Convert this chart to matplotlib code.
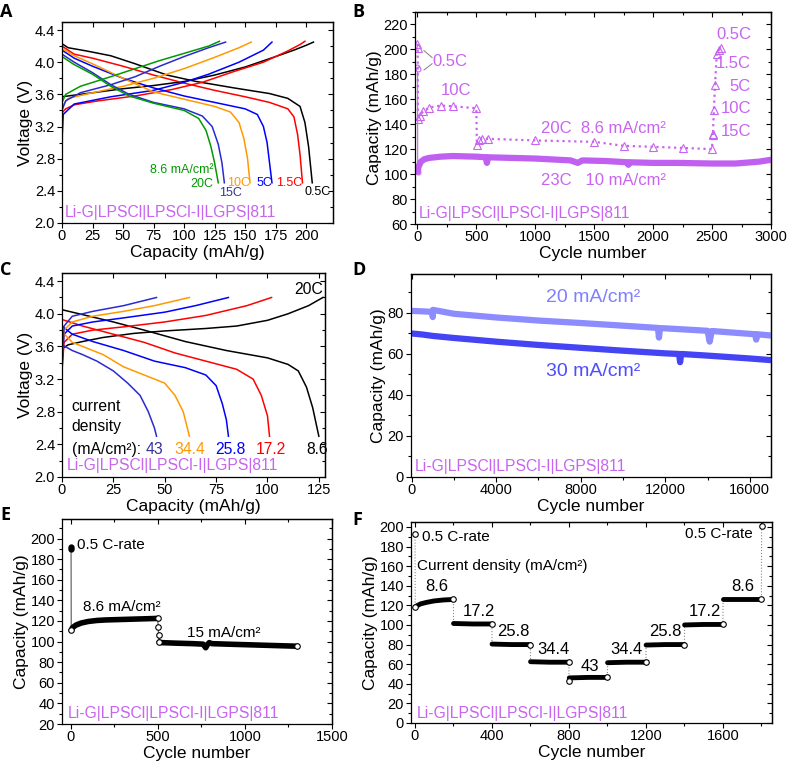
import matplotlib
matplotlib.use('Agg')
import matplotlib.pyplot as plt
from matplotlib.ticker import MultipleLocator, FixedLocator

plt.rcParams['font.family'] = ['Liberation Sans', 'DejaVu Sans']
plt.rcParams['font.size'] = 10.5
plt.rcParams['axes.labelsize'] = 12.5
plt.rcParams['axes.labelpad'] = 1
plt.rcParams['xtick.major.pad'] = 1
plt.rcParams['ytick.major.pad'] = 1.5
plt.rcParams['axes.linewidth'] = 0.9

MAG = '#c864f0'
CELL = 'Li-G|LPSCl|LPSCl-I|LGPS|811'

# ---------------- Panel A data (capacity mAh/g, voltage V) ----------------
a_labels = ['0.5C', '1.5C', '5C', '10C', '15C', '20C']
a_colors = ['black', '#ff0000', '#0000ff', '#ff9900', '#2a2ad0', '#009a00']
a_chg_cap_05 = [0, 10, 25, 50, 75, 100, 125, 150, 175, 190, 200, 206]
a_chg_v_05 = [3.57, 3.59, 3.62, 3.67, 3.71, 3.76, 3.84, 3.94, 4.07, 4.15, 4.21, 4.25]
a_dis_cap_05 = [0, 5, 20, 40, 60, 86, 110, 141, 170, 185, 195, 199, 202, 205]
a_dis_v_05 = [4.23, 4.18, 4.14, 4.08, 3.98, 3.84, 3.76, 3.68, 3.61, 3.55, 3.45, 3.25, 2.95, 2.5]
a_chg_cap_15 = [0, 0.5, 3, 10, 30, 60, 90, 115, 140, 165, 185, 195, 199]
a_chg_v_15 = [2.73, 3.38, 3.42, 3.47, 3.52, 3.58, 3.66, 3.75, 3.88, 4.0, 4.14, 4.22, 4.26]
a_dis_cap_15 = [0, 10, 25, 50, 75, 100, 125, 150, 170, 185, 190, 193, 195, 197]
a_dis_v_15 = [4.2, 4.1, 4.05, 3.95, 3.84, 3.74, 3.65, 3.57, 3.5, 3.42, 3.32, 3.1, 2.85, 2.5]
a_chg_cap_5 = [0, 1, 10, 40, 75, 100, 120, 145, 165, 172]
a_chg_v_5 = [3.05, 3.35, 3.48, 3.57, 3.65, 3.75, 3.85, 4.0, 4.15, 4.25]
a_dis_cap_5 = [0, 10, 25, 50, 75, 100, 125, 150, 160, 165, 168, 170, 172]
a_dis_v_5 = [4.15, 4.05, 3.95, 3.8, 3.68, 3.58, 3.5, 3.42, 3.35, 3.2, 3.0, 2.75, 2.5]
a_chg_cap_10 = [0, 5, 25, 50, 75, 100, 125, 145, 155]
a_chg_v_10 = [3.45, 3.55, 3.62, 3.7, 3.8, 3.92, 4.06, 4.18, 4.25]
a_dis_cap_10 = [0, 10, 25, 50, 75, 100, 125, 138, 145, 149, 152, 154]
a_dis_v_10 = [4.17, 4.08, 3.98, 3.8, 3.63, 3.54, 3.45, 3.38, 3.25, 3.05, 2.8, 2.5]
a_chg_cap_15c = [0, 3, 15, 40, 60, 80, 100, 120, 134]
a_chg_v_15c = [3.4, 3.52, 3.62, 3.72, 3.82, 3.95, 4.07, 4.18, 4.25]
a_dis_cap_15c = [0, 10, 25, 40, 55, 75, 100, 115, 123, 128, 131, 133]
a_dis_v_15c = [4.1, 4.0, 3.87, 3.72, 3.6, 3.5, 3.42, 3.33, 3.2, 2.98, 2.75, 2.5]
a_chg_cap_20 = [0, 3, 15, 40, 60, 80, 100, 120, 129]
a_chg_v_20 = [3.5, 3.6, 3.7, 3.82, 3.92, 4.02, 4.11, 4.2, 4.26]
a_dis_cap_20 = [0, 10, 25, 40, 55, 75, 100, 112, 118, 122, 125, 128]
a_dis_v_20 = [4.07, 3.97, 3.85, 3.7, 3.58, 3.49, 3.4, 3.3, 3.15, 2.95, 2.75, 2.5]

# ---------------- Panel B data (cycle, capacity) ----------------
b_cyc_23c = [1, 2, 3, 10, 30, 60, 100, 200, 300, 500, 580, 590, 600, 800, 1000, 1300, 1360,
             1400, 1600, 1780, 1790, 1800, 2000, 2200, 2500, 2700, 2900, 3000]
b_cap_23c = [186, 184, 102, 106, 110, 112, 113, 114, 114.5, 114, 113.5, 109, 113.5, 113, 112.5,
             111, 109, 111, 110.5, 109.5, 107.5, 109.5, 109, 109, 108.5, 108.5, 110, 111.5]
b_cyc_rate = [1, 3, 5, 20, 50, 100, 200, 300, 500, 505, 520, 550, 600, 1000, 1500, 1750, 2000,
              2250, 2500, 2505, 2507, 2515, 2525, 2540, 2560, 2580]
b_cap_rate = [204.5, 201, 144, 147, 150.4, 153.3, 155, 154.4, 152.8, 123.7, 127.7, 128.5, 128.3,
              127, 125.9, 122.7, 121.9, 121, 120, 132.5, 131, 151.2, 171.2, 196.5, 199.7, 201.3]

# ---------------- Panel C data ----------------
c_labels = ['8.6', '17.2', '25.8', '34.4', '43']
c_colors = ['black', '#ff0000', '#0000ff', '#ff9900', '#2a2ad0']
c_chg_cap_86 = [0, 3, 10, 20, 35, 50, 70, 85, 100, 110, 120, 127]
c_chg_v_86 = [3.57, 3.62, 3.66, 3.71, 3.76, 3.79, 3.82, 3.85, 3.92, 4.0, 4.1, 4.2]
c_dis_cap_86 = [0, 10, 25, 40, 60, 80, 100, 110, 115, 119, 122, 125]
c_dis_v_86 = [4.05, 3.99, 3.9, 3.8, 3.66, 3.55, 3.46, 3.38, 3.3, 3.1, 2.85, 2.5]
c_chg_cap_172 = [0, 1, 5, 15, 30, 50, 70, 90, 102]
c_chg_v_172 = [3.3, 3.65, 3.75, 3.8, 3.84, 3.9, 3.98, 4.1, 4.2]
c_dis_cap_172 = [0, 10, 25, 40, 55, 70, 85, 93, 97, 100, 101]
c_dis_v_172 = [3.93, 3.85, 3.75, 3.65, 3.52, 3.42, 3.32, 3.2, 3.0, 2.75, 2.5]
c_chg_cap_258 = [0, 1, 5, 15, 30, 50, 65, 81]
c_chg_v_258 = [3.4, 3.75, 3.85, 3.9, 3.95, 4.02, 4.1, 4.2]
c_dis_cap_258 = [0, 5, 15, 30, 45, 60, 70, 75, 78, 80, 81]
c_dis_v_258 = [3.85, 3.75, 3.66, 3.55, 3.42, 3.34, 3.25, 3.12, 2.9, 2.7, 2.5]
c_chg_cap_344 = [0, 1, 5, 15, 30, 45, 62]
c_chg_v_344 = [3.45, 3.8, 3.9, 3.97, 4.03, 4.1, 4.2]
c_dis_cap_344 = [0, 5, 12, 20, 30, 40, 50, 55, 59, 62]
c_dis_v_344 = [3.78, 3.65, 3.58, 3.5, 3.35, 3.25, 3.15, 3.0, 2.8, 2.5]
c_chg_cap_43 = [0, 1, 5, 15, 30, 46]
c_chg_v_43 = [3.3, 3.85, 3.97, 4.03, 4.1, 4.2]
c_dis_cap_43 = [0, 5, 10, 17, 25, 32, 38, 42, 45, 46]
c_dis_v_43 = [3.62, 3.55, 3.5, 3.42, 3.3, 3.15, 3.0, 2.8, 2.6, 2.5]

# ---------------- Panel D data ----------------
d_cyc_20 = [0, 500, 990, 1000, 1010, 2000, 4000, 6000, 8000, 10000, 11650, 11700, 11750, 12000,
            14000, 14100, 14200, 16000, 16250, 16300, 16350, 17000]
d_cap_20 = [81, 80.8, 80.5, 78, 81.5, 79.6, 77.8, 76.3, 75.1, 73.8, 72.7, 68, 72.6, 72.5,
            71.3, 66, 71.2, 69.8, 69.6, 67, 69.6, 69]
d_cyc_30 = [0, 500, 1000, 2000, 4000, 6000, 8000, 10000, 12000, 12650, 12700, 12750, 14000,
            16000, 17000]
d_cap_30 = [70, 69.5, 68.8, 67.8, 66, 64.4, 63, 61.6, 60.3, 60, 56, 60, 59.2, 57.8, 57]

# ---------------- Panel E data ----------------
e_cyc = [1, 2, 3, 10, 30, 60, 100, 150, 200, 300, 400, 500, 502, 505, 508, 520, 600, 700,
         760, 775, 785, 795, 810, 900, 1000, 1100, 1200, 1300]
e_cap = [192, 190, 111, 113.5, 116, 118, 119.5, 120.5, 121, 121.5, 122, 122.5, 114, 106,
         99.5, 99, 98.5, 98, 97.5, 94, 97, 99, 98, 97.5, 97, 96.5, 96, 95.5]

# ---------------- Panel F data ----------------
f_step_labels = ['8.6', '17.2', '25.8', '34.4', '43', '34.4', '25.8', '17.2', '8.6']
f_cyc = [1, 2, 10, 30, 60, 100, 150, 200, 201, 300, 400, 401, 500, 600, 601, 700, 800,
         801, 802, 900, 1000, 1001, 1100, 1200, 1201, 1300, 1400, 1401, 1500, 1600,
         1601, 1700, 1800, 1801]
f_cap = [193, 118, 119.5, 121.5, 123, 124.5, 125.5, 126, 101.5, 101, 101, 80.5, 80, 80,
         62.5, 62, 62, 43, 46, 46.5, 46.5, 61.5, 62, 62, 79.5, 80, 80, 100, 100.5, 100.5,
         126, 126, 126, 201]

W, H = 787, 761
fig = plt.figure(figsize=(W / 100, H / 100), dpi=100)


def add_ax(l, r, t, b):
    return fig.add_axes([l / W, 1 - b / H, (r - l) / W, (b - t) / H])


def style(ax, xmaj, xmin, ymaj, ymin):
    for axis, maj, mnr in ((ax.xaxis, xmaj, xmin), (ax.yaxis, ymaj, ymin)):
        axis.set_major_locator(MultipleLocator(maj))
        if mnr:
            axis.set_minor_locator(MultipleLocator(mnr))
    ax.tick_params(which='both', direction='out', top=False, right=False, width=0.8)
    ax.tick_params(which='major', length=3.5)
    ax.tick_params(which='minor', length=2)
    sx = ax.secondary_xaxis('top')
    sx.xaxis.set_major_locator(MultipleLocator(xmaj))
    if xmin:
        sx.xaxis.set_minor_locator(MultipleLocator(xmin))
    sx.tick_params(which='both', direction='in', labeltop=False, width=0.8)
    sx.tick_params(which='major', length=3.5)
    sx.tick_params(which='minor', length=2)
    sy = ax.secondary_yaxis('right')
    sy.yaxis.set_major_locator(MultipleLocator(ymaj))
    if ymin:
        sy.yaxis.set_minor_locator(MultipleLocator(ymin))
    sy.tick_params(which='both', direction='in', labelright=False, width=0.8)
    sy.tick_params(which='major', length=3.5)
    sy.tick_params(which='minor', length=2)


def letter(x, y, s):
    fig.text(x / W, 1 - y / H, s, ha='left', va='top', fontsize=13, fontweight='bold',
             family=['Open Sans', 'DejaVu Sans'])


# ======================= Panel A =======================
axA = add_ax(62, 333, 22, 223)
a_chg = [(a_chg_cap_05, a_chg_v_05), (a_chg_cap_15, a_chg_v_15), (a_chg_cap_5, a_chg_v_5),
         (a_chg_cap_10, a_chg_v_10), (a_chg_cap_15c, a_chg_v_15c), (a_chg_cap_20, a_chg_v_20)]
a_dis = [(a_dis_cap_05, a_dis_v_05), (a_dis_cap_15, a_dis_v_15), (a_dis_cap_5, a_dis_v_5),
         (a_dis_cap_10, a_dis_v_10), (a_dis_cap_15c, a_dis_v_15c), (a_dis_cap_20, a_dis_v_20)]
for (cx, cy), (dx, dy), col in zip(a_chg, a_dis, a_colors):
    axA.plot(cx, cy, color=col, lw=1.1)
    axA.plot(dx, dy, color=col, lw=1.1)
axA.set_xlim(0, 222)
axA.set_ylim(2.0, 4.5)
style(axA, 25, None, 0.4, 0.2)
axA.yaxis.set_major_formatter(matplotlib.ticker.FormatStrFormatter('%.1f'))
axA.set_xlabel('Capacity (mAh/g)')
axA.set_ylabel('Voltage (V)')
axA.text(124, 2.66, '8.6 mA/cm²', color='#009a00', ha='right', va='center', fontsize=9)
axA.text(124, 2.49, '20C', color='#009a00', ha='right', va='center', fontsize=9)
axA.text(138, 2.37, '15C', color='#333399', ha='center', va='center', fontsize=9)
axA.text(144.5, 2.5, '10C', color='#ff9900', ha='center', va='center', fontsize=9)
axA.text(166, 2.5, '5C', color='#0000ff', ha='center', va='center', fontsize=9)
axA.text(186.5, 2.5, '1.5C', color='#ff0000', ha='center', va='center', fontsize=9)
axA.text(209.5, 2.38, '0.5C', color='black', ha='center', va='center', fontsize=9)
axA.text(2.5, 2.13, CELL, color=MAG, ha='left', va='center', fontsize=11.3)

# ======================= Panel B =======================
axB = add_ax(415, 771, 12, 224)
axB.plot(b_cyc_23c[:3], b_cap_23c[:3], color=MAG, lw=0.8, marker='o', ms=3.5, mfc='white',
         mec=MAG, mew=0.8)
axB.plot(b_cyc_23c[2:], b_cap_23c[2:], color='#c060f0', lw=4.5, solid_capstyle='round')
axB.plot(b_cyc_rate, b_cap_rate, color=MAG, lw=1.6, ls=':', marker='^', ms=6, mfc='none',
         mec=MAG, mew=0.8)
axB.set_xlim(-20, 3000)
axB.set_ylim(60, 230)
style(axB, 500, 250, 20, 10)
axB.set_xlabel('Cycle number')
axB.set_ylabel('Capacity (mAh/g)')
axB.plot([56, 125], [199, 193.5], color='gray', lw=0.7)
axB.plot([56, 125], [183.5, 188.5], color='gray', lw=0.7)
bfs = 12
axB.text(130, 190, '0.5C', color=MAG, ha='left', va='center', fontsize=bfs)
axB.text(330, 167, '10C', color=MAG, ha='center', va='center', fontsize=bfs)
axB.text(1580, 136.5, '20C  8.6 mA/cm²', color=MAG, ha='center', va='center', fontsize=bfs)
axB.text(1580, 95.2, '23C   10 mA/cm²', color=MAG, ha='center', va='center', fontsize=bfs)
for txt, yy in zip(['0.5C', '1.5C', '5C', '10C', '15C'], [211.7, 189, 170.4, 152.5, 134.4]):
    axB.text(2830, yy, txt, color=MAG, ha='right', va='center', fontsize=bfs)
axB.text(15, 68.5, CELL, color=MAG, ha='left', va='center', fontsize=11.3)

# ======================= Panel C =======================
axC = add_ax(62, 325, 273, 477)
c_chg = [(c_chg_cap_86, c_chg_v_86), (c_chg_cap_172, c_chg_v_172), (c_chg_cap_258, c_chg_v_258),
         (c_chg_cap_344, c_chg_v_344), (c_chg_cap_43, c_chg_v_43)]
c_dis = [(c_dis_cap_86, c_dis_v_86), (c_dis_cap_172, c_dis_v_172), (c_dis_cap_258, c_dis_v_258),
         (c_dis_cap_344, c_dis_v_344), (c_dis_cap_43, c_dis_v_43)]
for (cx, cy), (dx, dy), col in zip(c_chg, c_dis, c_colors):
    axC.plot(cx, cy, color=col, lw=1.1)
    axC.plot(dx, dy, color=col, lw=1.1)
axC.set_xlim(0, 128)
axC.set_ylim(2.0, 4.5)
style(axC, 25, None, 0.4, 0.2)
axC.yaxis.set_major_formatter(matplotlib.ticker.FormatStrFormatter('%.1f'))
axC.set_xlabel('Capacity (mAh/g)')
axC.set_ylabel('Voltage (V)')
cfs = 11.3
axC.text(127, 4.3, '20C', color='black', ha='right', va='center', fontsize=cfs)
axC.text(4.7, 2.86, 'current', ha='left', va='center', fontsize=cfs)
axC.text(4.7, 2.62, 'density', ha='left', va='center', fontsize=cfs)
axC.text(4.7, 2.34, '(mA/cm²):', ha='left', va='center', fontsize=cfs)
label_x = [124, 101.8, 82, 62.4, 45]
label_c = ['black', '#ff0000', '#0000ff', '#ff9900', '#333399']
for txt, xx, col in zip(c_labels, label_x, label_c):
    axC.text(xx, 2.34, txt, color=col, ha='center', va='center', fontsize=cfs)
axC.text(2.3, 2.14, CELL, color=MAG, ha='left', va='center', fontsize=11.3)

# ======================= Panel D =======================
axD = add_ax(411, 771, 274, 477)
axD.plot(d_cyc_20, d_cap_20, color='#8c8cff', lw=4.5, solid_capstyle='round')
axD.plot(d_cyc_30, d_cap_30, color='#4444f4', lw=4.5, solid_capstyle='round')
axD.set_xlim(-30, 17000)
axD.set_ylim(0, 99)
style(axD, 4000, 2000, 20, 10)
axD.set_xlabel('Cycle number')
axD.set_ylabel('Capacity (mAh/g)')
axD.text(8600, 87.3, '20 mA/cm²', color='#8080ff', ha='center', va='center', fontsize=14)
axD.text(8600, 51.4, '30 mA/cm²', color='#4d4dff', ha='center', va='center', fontsize=14)
axD.text(160, 4.9, CELL, color=MAG, ha='left', va='center', fontsize=11.3)

# ======================= Panel E =======================
axE = add_ax(62, 332, 519, 724)
axE.plot(e_cyc, e_cap, color='#555555', lw=0.8)
axE.plot(e_cyc[2:12], e_cap[2:12], color='black', lw=4, solid_capstyle='round')
axE.plot(e_cyc[14:], e_cap[14:], color='black', lw=4, solid_capstyle='round')
axE.plot(e_cyc[:2], e_cap[:2], ls='none', marker='o', ms=3.5, mfc='black', mec='black')
hollow = [2, 11, 12, 13, 14, len(e_cyc) - 1]
axE.plot([e_cyc[i] for i in hollow], [e_cap[i] for i in hollow], ls='none', marker='o', ms=4,
         mfc='white', mec='black', mew=0.8)
axE.set_xlim(-50, 1500)
axE.set_ylim(20, 219)
style(axE, 500, 250, 20, 10)
axE.set_xlabel('Cycle number')
axE.set_ylabel('Capacity (mAh/g)')
efs = 11
axE.text(34, 194, '0.5 C-rate', ha='left', va='center', fontsize=efs)
axE.text(293, 134, '8.6 mA/cm²', ha='center', va='center', fontsize=efs)
axE.text(877, 108, '15 mA/cm²', ha='center', va='center', fontsize=efs)
axE.text(-19, 30.4, CELL, color=MAG, ha='left', va='center', fontsize=11.3)

# ======================= Panel F =======================
axF = add_ax(411, 772, 522, 723)
axF.plot(f_cyc, f_cap, color='#888888', lw=0.8, ls=':')
seg_bounds = [(1, 8), (8, 11), (11, 14), (14, 17), (18, 21), (21, 24), (24, 27), (27, 30), (30, 33)]
for s, e in seg_bounds:
    axF.plot(f_cyc[s:e], f_cap[s:e], color='black', lw=3.5, solid_capstyle='round')
ends = [0, 1, 7, 10, 13, 16, 17, 20, 23, 26, 29, 32, 33]
axF.plot([f_cyc[i] for i in ends], [f_cap[i] for i in ends], ls='none', marker='o', ms=4,
         mfc='white', mec='black', mew=0.8)
axF.set_xlim(-20, 1855)
axF.set_ylim(0, 205)
style(axF, 400, 200, 20, 10)
axF.set_xlabel('Cycle number')
axF.set_ylabel('Capacity (mAh/g)')
ffs = 11
axF.text(38, 190, '0.5 C-rate', ha='left', va='center', fontsize=ffs)
axF.text(1757, 193, '0.5 C-rate', ha='right', va='center', fontsize=ffs)
axF.text(12, 160, 'Current density (mA/cm²)', ha='left', va='center', fontsize=ffs)
f_lab_x = [116, 332, 513, 720, 907, 1100, 1300, 1506, 1705]
f_lab_y = [139, 113.6, 93, 74.6, 57.6, 74.6, 93, 113.6, 139]
for txt, xx, yy in zip(f_step_labels, f_lab_x, f_lab_y):
    axF.text(xx, yy, txt, ha='center', va='center', fontsize=ffs + 1)
axF.text(12, 10, CELL, color=MAG, ha='left', va='center', fontsize=11.3)

letter(0, 3, 'A')
letter(352, 3, 'B')
letter(0, 261, 'C')
letter(352, 261, 'D')
letter(0, 506, 'E')
letter(352, 511, 'F')

fig.savefig('out.png', dpi=100)
